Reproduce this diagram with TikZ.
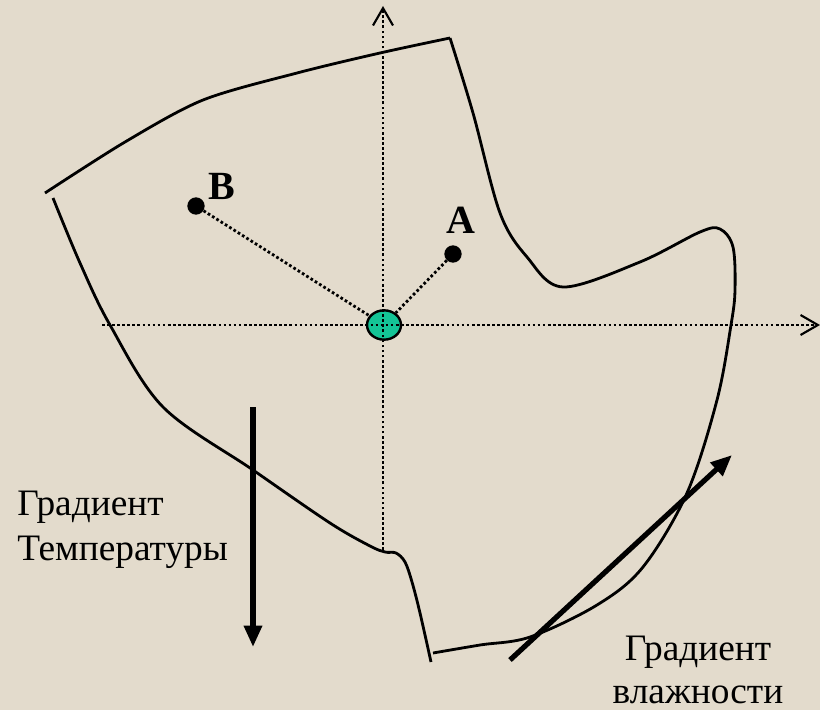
\documentclass[tikz,border=0pt]{standalone}
\usepackage{fontspec}
\setmainfont{Liberation Serif}
\usetikzlibrary{arrows.meta,shapes.geometric}
\definecolor{bgbeige}{RGB}{227,219,204}
\definecolor{pointgreen}{RGB}{20,196,150}
\begin{document}
\begin{tikzpicture}[x=0.75pt,y=-0.75pt,
  axisline/.style={line width=2.1pt, dash pattern=on 2pt off 1.8pt,
    -{Straight Barb[length=13pt,width=15pt,line width=1.6pt]}},
  dotline/.style={line width=2.1pt, dash pattern=on 2pt off 1.8pt},
  outline/.style={line width=2.1pt, line join=miter},
  bigarrow/.style={line width=3.9pt, -{Triangle[length=16pt,width=13pt]}},
  pointdot/.style={circle, fill=black, minimum size=13pt, inner sep=0pt},
  ptlabel/.style={font=\bfseries\fontsize{30}{34}\selectfont, anchor=base west, inner sep=0pt},
  gradtext/.style={font=\fontsize{28}{32}\selectfont, inner sep=0pt}]
\fill[bgbeige] (0,0) rectangle (820,710);
\useasboundingbox (0,0) rectangle (820,710);

% region outline
\draw[outline] plot[smooth, tension=0.5] coordinates
  {(45,193) (125,142) (203,100) (297,73) (380,53) (450,38)};
\draw[outline] plot[smooth, tension=0.55] coordinates
  {(450,38) (473,113) (500,213) (527,257) (563,287) (640,262) (700,232) (720,229) (733,247) (735,290) (731,325) (717,400) (687,493) (643,567) (597,605) (530,637) (480,645) (433,653)};
\draw[outline] plot[smooth, tension=0.55] coordinates
  {(53,198) (80,263) (110,325) (163,407) (253,470) (330,523) (370,546) (385,552) (396,553) (405,562) (412,582) (420,613) (431,662)};

% central point
\node[ellipse, draw, line width=1.8pt, fill=pointgreen, minimum width=25.5pt, minimum height=22pt, inner sep=0pt] (O) at (384,325) {};

% axes
\coordinate (vb) at (383,550);
\coordinate (vt) at (383,6);
\coordinate (hl) at (102,325);
\coordinate (hr) at (820,325);
\draw[axisline] (vb) -- (vt);
\draw[axisline] (hl) -- (hr);

% points
\node[pointdot] (B) at (196,206) {};
\node[pointdot] (A) at (453,254) {};
\node[ptlabel] (Bl) at (208,199) {B};
\node[ptlabel] (Al) at (446,233) {A};
\draw[dotline] (B) -- (O);
\draw[dotline] (A) -- (O);

% gradient arrows
\coordinate (ts) at (253,407);
\coordinate (te) at (253,647);
\draw[bigarrow] (ts) -- (te);
\coordinate (hs) at (510,660);
\coordinate (he) at (732,455);
\draw[bigarrow] (hs) -- (he);

% texts
\node[gradtext, anchor=base west] (t1) at (17,515) {Градиент};
\node[gradtext, anchor=base west] (t2) at (17,560) {Температуры};
\node[gradtext, anchor=base] (h1) at (698,660) {Градиент};
\node[gradtext, anchor=base] (h2) at (698,703) {влажности};
\end{tikzpicture}
\end{document}
